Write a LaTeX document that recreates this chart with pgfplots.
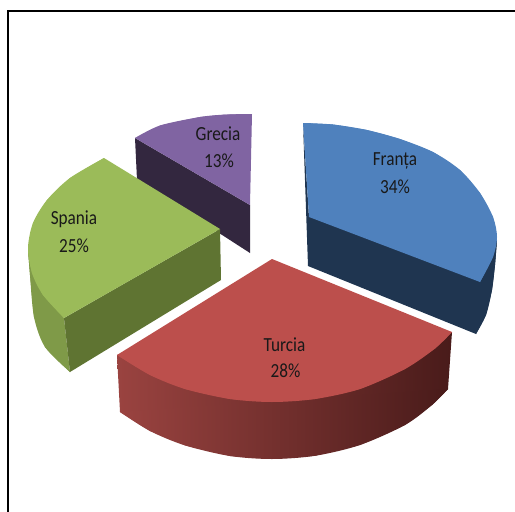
\documentclass[border=0pt]{standalone}
\usepackage{pgfplots}
\pgfplotsset{compat=1.18}
\usepackage{fontspec}
\setmainfont[FakeStretch=0.86]{Carlito}
\definecolor{gtop}{HTML}{9BBB59}
\definecolor{gin}{HTML}{5F7432}
\definecolor{gw}{HTML}{7F9A48}
\definecolor{btop}{HTML}{4F81BD}
\definecolor{bin}{HTML}{1F3550}
\definecolor{rtop}{HTML}{BC4F4C}
\definecolor{rl}{HTML}{9A4340}
\definecolor{rm}{HTML}{6E2E2C}
\definecolor{rr}{HTML}{491B1A}
\definecolor{ptop}{HTML}{8064A2}
\definecolor{pin}{HTML}{33273F}
\tikzset{lbl/.style={font=\fontsize{20}{22}\selectfont, text=black!90, inner sep=0pt, anchor=center}}
\begin{document}
\begin{tikzpicture}
\begin{axis}[
  scale only axis, width=515pt, height=512pt,
  xmin=0, xmax=515, ymin=0, ymax=512, y dir=reverse,
  hide axis, clip=true,
]
\path (axis cs:0,0) rectangle (axis cs:515,512);
% frame
\addplot[black, line width=2pt] coordinates {(8,512) (8,10.5) (515,10.5)};
% Grecia
\addplot[fill=pin, draw=none] coordinates {(135,138) (250,205) (250,253) (137,180)} -- cycle;
\addplot[fill=ptop, draw=none] coordinates {(250,205)(135,138)(160,125.5)(200,117)(225,114.6)(252,114)} -- cycle;
\addplot[fill=ptop, draw=none, smooth] coordinates {(135,138)(160,125.5)(200,117)(225,114.6)(252,114)} -- cycle;
% Spania
\addplot[fill=gw, draw=none, smooth] coordinates {(28,250)(30,275)(34,317)(45,347)(70,372)} -- cycle;
\addplot[fill=gw, draw=none] coordinates {(28,250)(30,275)(34,317)(45,347)(70,372)(64,318)} -- cycle;
\addplot[fill=gin, draw=none] coordinates {(220,229) (221,280) (70,372) (64,318)} -- cycle;
\addplot[fill=gtop, draw=none] coordinates {(220,229)(104,158)(70,178)(47,200)(33,223)(28,248)(32,273)(43,295)(64,318)} -- cycle;
\addplot[fill=gtop, draw=none, smooth] coordinates {(104,158)(70,178)(47,200)(33,223)(28,248)(32,273)(43,295)(64,318)} -- cycle;
% Franta
\addplot[fill=bin, draw=none] coordinates {(303,123)(308,266)(476,334)(486,315)(492,290)(495,265)(497,240)(309,217)} -- cycle;
\addplot[fill=bin, draw=none, smooth] coordinates {(497,240)(495,265)(492,290)(486,315)(476,334)} -- cycle;
\addplot[fill=btop, draw=none] coordinates {(309,217)(303,123)(333,124.5)(367,130)(400,139)(433,152)(460,170)(480,193)(493,217)(497,237)(493,257)(480,282)} -- cycle;
\addplot[fill=btop, draw=none, smooth] coordinates {(303,123)(333,124.5)(367,130)(400,139)(433,152)(460,170)(480,193)(493,217)(497,237)(493,257)(480,282)} -- cycle;
% Turcia
\addplot[left color=rl, middle color=rm, right color=rr, draw=none] coordinates {(117,355)(120,412)(150,431)(185,445.4)(230,456)(272,459)(315,455.8)(360,445)(405,425)(432,405)(448,389)(452,332)} -- cycle;
\addplot[left color=rl, middle color=rm, right color=rr, draw=none, smooth] coordinates {(120,412)(150,431)(185,445.4)(230,456)(272,459)(315,455.8)(360,445)(405,425)(432,405)(448,389)} -- cycle;
\addplot[fill=rtop, draw=none] coordinates {(272,259)(117,355)(150,375)(185,389)(230,399)(272,402)(315,399)(360,389)(405,369)(435,348.5)(452,332)} -- cycle;
\addplot[fill=rtop, draw=none, smooth] coordinates {(117,355)(150,375)(185,389)(230,399)(272,402)(315,399)(360,389)(405,369)(435,348.5)(452,332)} -- cycle;
% labels
\node[lbl] at (axis cs:395,161) {Franța};
\node[lbl] at (axis cs:395,187) {34\%};
\node[lbl] at (axis cs:284.5,345) {Turcia};
\node[lbl] at (axis cs:285.5,371) {28\%};
\node[lbl] at (axis cs:74,219) {Spania};
\node[lbl] at (axis cs:74,246) {25\%};
\node[lbl] at (axis cs:218,134) {Grecia};
\node[lbl] at (axis cs:219,161) {13\%};
\end{axis}
\end{tikzpicture}
\end{document}
